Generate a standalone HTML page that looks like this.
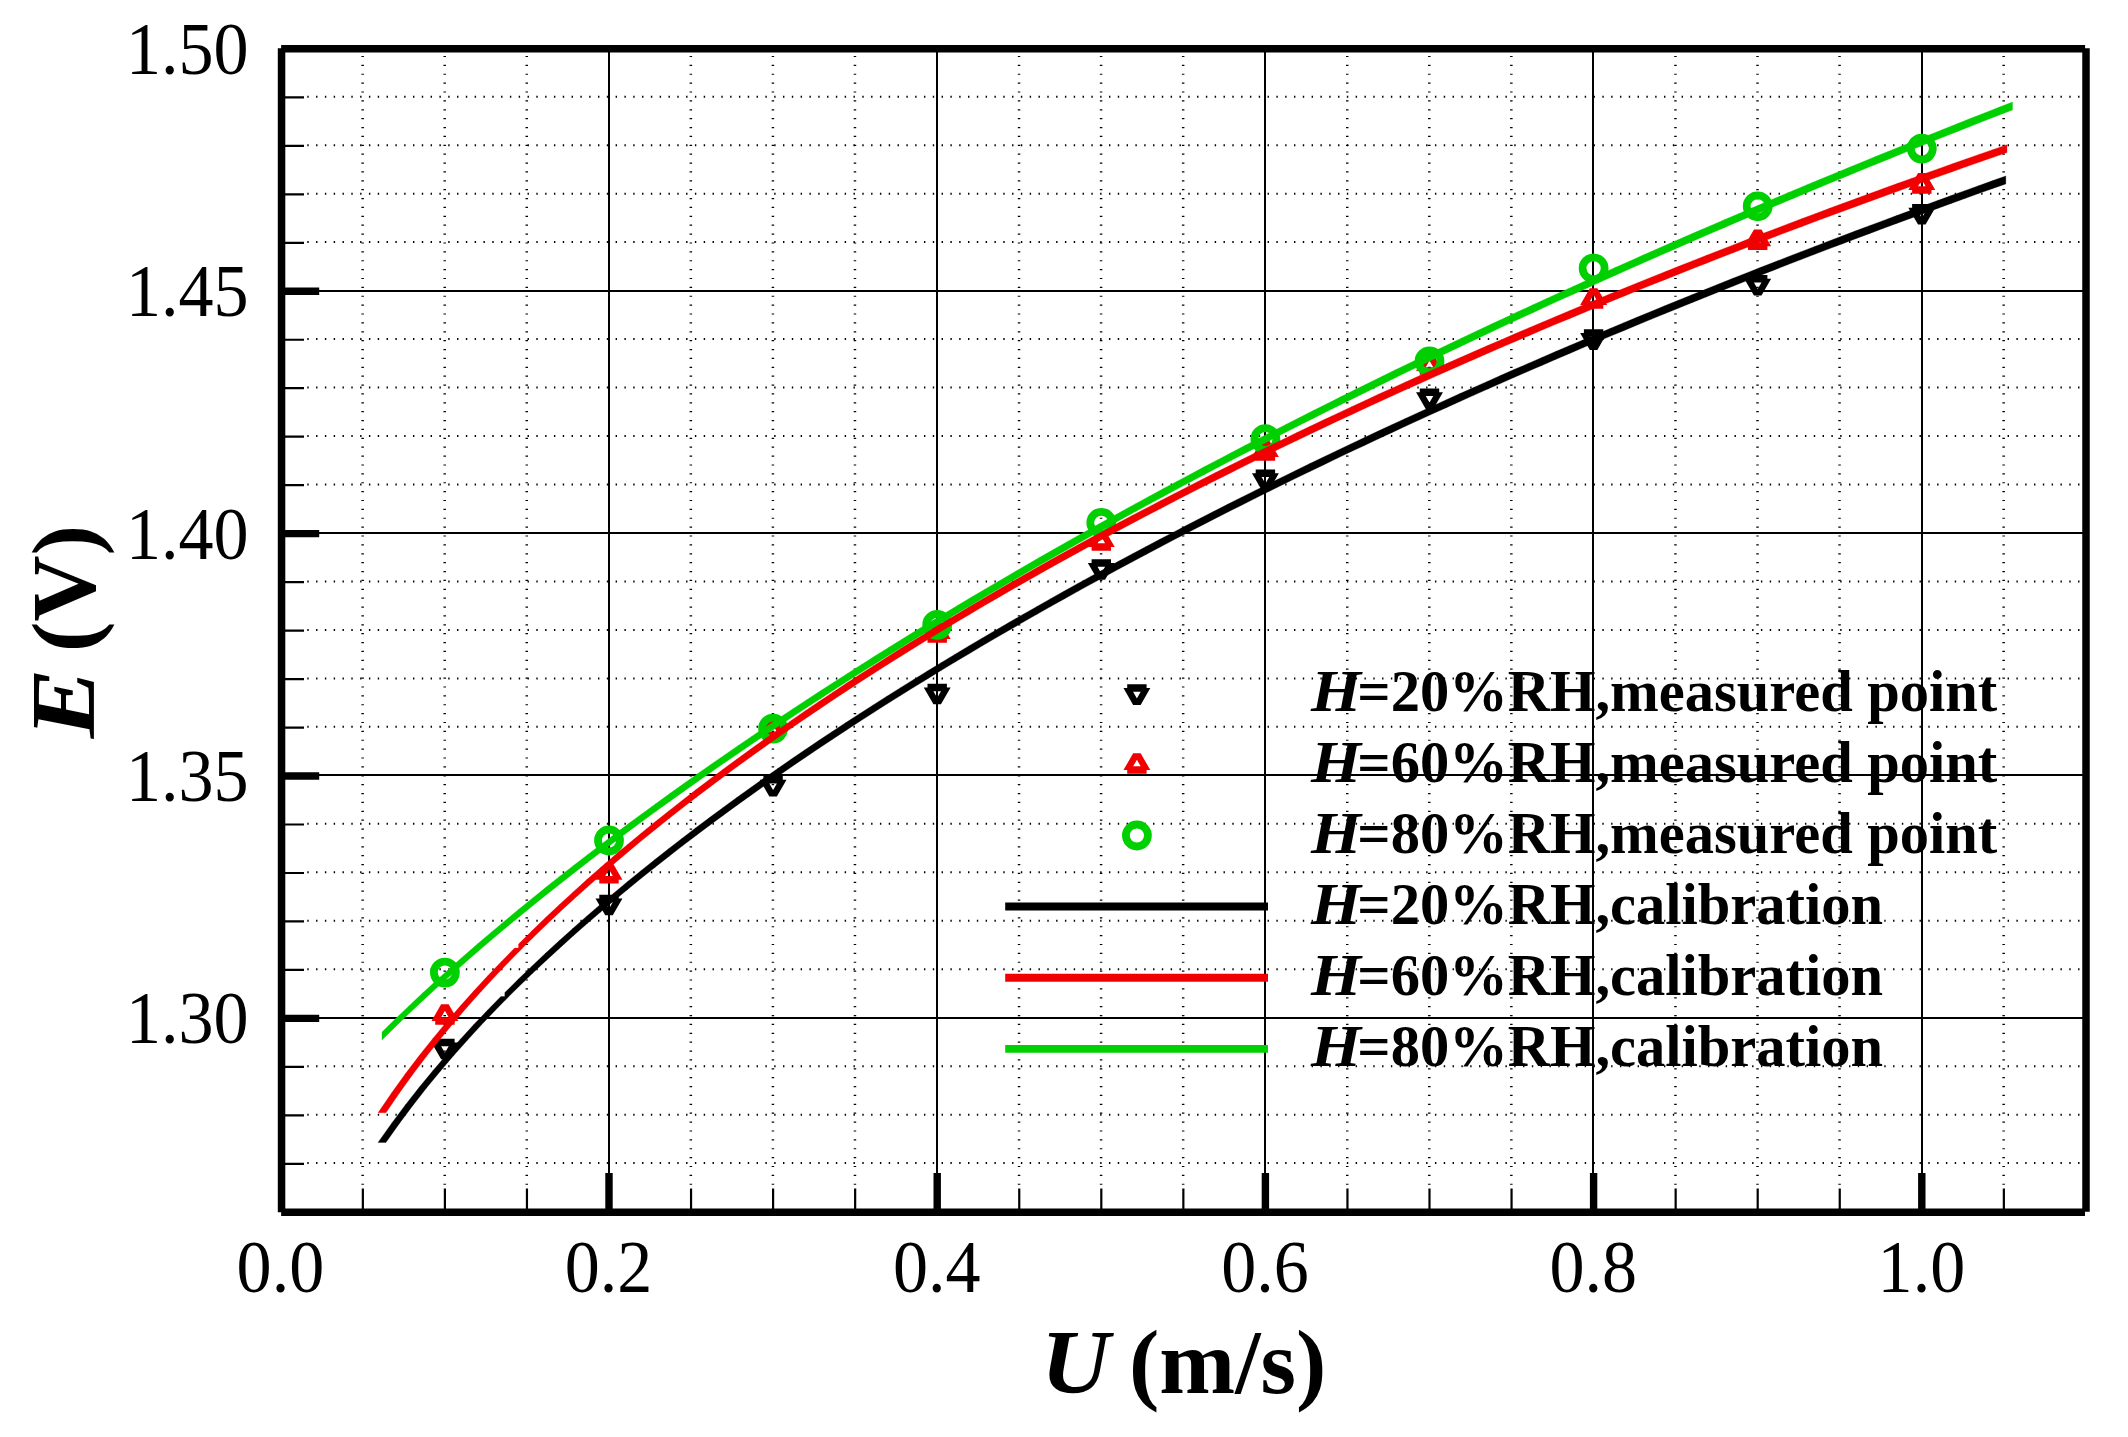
<!DOCTYPE html>
<html><head><meta charset="utf-8"><title>E-U calibration</title>
<style>html,body{margin:0;padding:0;background:#fff}svg{display:block}</style></head>
<body>
<svg width="2128" height="1437" viewBox="0 0 2128 1437">
<rect width="2128" height="1437" fill="#fff"/>
<path d="M307.27 96.67H2081.9M307.27 145.15H2081.9M307.27 193.63H2081.9M307.27 242.1H2081.9M307.27 339.05H2081.9M307.27 387.52H2081.9M307.27 436H2081.9M307.27 484.48H2081.9M307.27 581.42H2081.9M307.27 629.9H2081.9M307.27 678.38H2081.9M307.27 726.85H2081.9M307.27 823.8H2081.9M307.27 872.27H2081.9M307.27 920.75H2081.9M307.27 969.22H2081.9M307.27 1066.17H2081.9M307.27 1114.65H2081.9M307.27 1163.12H2081.9" stroke="#000" stroke-width="2.0" stroke-dasharray="1.4 7.41" fill="none"/>
<path d="M362.65 55.9V1187M444.7 55.9V1187M526.75 55.9V1187M690.85 55.9V1187M772.9 55.9V1187M854.95 55.9V1187M1019.05 55.9V1187M1101.1 55.9V1187M1183.15 55.9V1187M1347.25 55.9V1187M1429.3 55.9V1187M1511.35 55.9V1187M1675.45 55.9V1187M1757.5 55.9V1187M1839.55 55.9V1187M2003.65 55.9V1187" stroke="#000" stroke-width="2.5" stroke-dasharray="1.2 7.68" fill="none"/>
<path d="M281.55 291H2085.9M281.55 533H2085.9M281.55 775H2085.9M281.55 1018H2085.9M609 48.9V1212.3M937 48.9V1212.3M1265 48.9V1212.3M1593 48.9V1212.3M1922 48.9V1212.3" stroke="#000" stroke-width="2" fill="none"/>
<path d="M435.2 1038.75H454.6V1046.25H435.2ZM431.45 1042.5H438.95L448.65 1059.3H441.15ZM450.85 1042.5H458.35L448.65 1059.3H441.15Z" fill="#000"/>
<path d="M599.3 894.65H618.7V902.15H599.3ZM595.55 898.4H603.05L612.75 915.2H605.25ZM614.95 898.4H622.45L612.75 915.2H605.25Z" fill="#000"/>
<path d="M763.4 775.95H782.8V783.45H763.4ZM759.65 779.7H767.15L776.85 796.5H769.35ZM779.05 779.7H786.55L776.85 796.5H769.35Z" fill="#000"/>
<path d="M927.5 683.65H946.9V691.15H927.5ZM923.75 687.4H931.25L940.95 704.2H933.45ZM943.15 687.4H950.65L940.95 704.2H933.45Z" fill="#000"/>
<path d="M1091.6 559.25H1111V566.75H1091.6ZM1087.85 563H1095.35L1105.05 579.8H1097.55ZM1107.25 563H1114.75L1105.05 579.8H1097.55Z" fill="#000"/>
<path d="M1255.7 469.55H1275.1V477.05H1255.7ZM1251.95 473.3H1259.45L1269.15 490.1H1261.65ZM1271.35 473.3H1278.85L1269.15 490.1H1261.65Z" fill="#000"/>
<path d="M1419.8 388.45H1439.2V395.95H1419.8ZM1416.05 392.2H1423.55L1433.25 409H1425.75ZM1435.45 392.2H1442.95L1433.25 409H1425.75Z" fill="#000"/>
<path d="M1583.9 329.35H1603.3V336.85H1583.9ZM1580.15 333.1H1587.65L1597.35 349.9H1589.85ZM1599.55 333.1H1607.05L1597.35 349.9H1589.85Z" fill="#000"/>
<path d="M1748 274.95H1767.4V282.45H1748ZM1744.25 278.7H1751.75L1761.45 295.5H1753.95ZM1763.65 278.7H1771.15L1761.45 295.5H1753.95Z" fill="#000"/>
<path d="M1912.1 204.05H1931.5V211.55H1912.1ZM1908.35 207.8H1915.85L1925.55 224.6H1918.05ZM1927.75 207.8H1935.25L1925.55 224.6H1918.05Z" fill="#000"/>
<path d="M435.2 1024.85H454.6V1017.35H435.2ZM431.45 1021.1H438.95L448.65 1004.3H441.15ZM450.85 1021.1H458.35L448.65 1004.3H441.15Z" fill="#f00000"/>
<path d="M599.3 883.55H618.7V876.05H599.3ZM595.55 879.8H603.05L612.75 863H605.25ZM614.95 879.8H622.45L612.75 863H605.25Z" fill="#f00000"/>
<path d="M763.4 739.35H782.8V731.85H763.4ZM759.65 735.6H767.15L776.85 718.8H769.35ZM779.05 735.6H786.55L776.85 718.8H769.35Z" fill="#f00000"/>
<path d="M927.5 642.65H946.9V635.15H927.5ZM923.75 638.9H931.25L940.95 622.1H933.45ZM943.15 638.9H950.65L940.95 622.1H933.45Z" fill="#f00000"/>
<path d="M1091.6 550.85H1111V543.35H1091.6ZM1087.85 547.1H1095.35L1105.05 530.3H1097.55ZM1107.25 547.1H1114.75L1105.05 530.3H1097.55Z" fill="#f00000"/>
<path d="M1255.7 460.75H1275.1V453.25H1255.7ZM1251.95 457H1259.45L1269.15 440.2H1261.65ZM1271.35 457H1278.85L1269.15 440.2H1261.65Z" fill="#f00000"/>
<path d="M1419.8 374.85H1439.2V367.35H1419.8ZM1416.05 371.1H1423.55L1433.25 354.3H1425.75ZM1435.45 371.1H1442.95L1433.25 354.3H1425.75Z" fill="#f00000"/>
<path d="M1583.9 308.75H1603.3V301.25H1583.9ZM1580.15 305H1587.65L1597.35 288.2H1589.85ZM1599.55 305H1607.05L1597.35 288.2H1589.85Z" fill="#f00000"/>
<path d="M1748 250.05H1767.4V242.55H1748ZM1744.25 246.3H1751.75L1761.45 229.5H1753.95ZM1763.65 246.3H1771.15L1761.45 229.5H1753.95Z" fill="#f00000"/>
<path d="M1912.1 193.65H1931.5V186.15H1912.1ZM1908.35 189.9H1915.85L1925.55 173.1H1918.05ZM1927.75 189.9H1935.25L1925.55 173.1H1918.05Z" fill="#f00000"/>
<circle cx="444.9" cy="972.6" r="11" fill="none" stroke="#00d000" stroke-width="7.8"/>
<circle cx="609" cy="840.5" r="11" fill="none" stroke="#00d000" stroke-width="7.8"/>
<circle cx="773.1" cy="728.6" r="11" fill="none" stroke="#00d000" stroke-width="7.8"/>
<circle cx="937.2" cy="624.9" r="11" fill="none" stroke="#00d000" stroke-width="7.8"/>
<circle cx="1101.3" cy="522.8" r="11" fill="none" stroke="#00d000" stroke-width="7.8"/>
<circle cx="1265.4" cy="439.1" r="11" fill="none" stroke="#00d000" stroke-width="7.8"/>
<circle cx="1429.5" cy="361.4" r="11" fill="none" stroke="#00d000" stroke-width="7.8"/>
<circle cx="1593.6" cy="268.3" r="11" fill="none" stroke="#00d000" stroke-width="7.8"/>
<circle cx="1757.7" cy="206.3" r="11" fill="none" stroke="#00d000" stroke-width="7.8"/>
<circle cx="1921.8" cy="148.6" r="11" fill="none" stroke="#00d000" stroke-width="7.8"/>
<path d="M378.05 1142.46H385.95L399.6 1123.16H391.7ZM391.7 1123.16H399.6L413.24 1104.92H405.34ZM405.34 1104.92H413.24L426.89 1087.55H418.99ZM418.99 1087.55H426.89L440.53 1070.96H432.63ZM432.63 1070.96H440.53L454.18 1055.02H446.28ZM446.28 1055.02H454.18L467.82 1039.68H459.92ZM459.92 1039.68H467.82L481.47 1024.85H473.57ZM473.57 1024.85H481.47L495.11 1010.5H487.21ZM487.21 1010.5H495.11L508.76 996.57H500.86ZM504.81 992.62V1000.52L518.45 986.98V979.08ZM518.45 979.08V986.98L532.1 973.79V965.89ZM532.1 965.89V973.79L545.74 960.93V953.03ZM545.74 953.03V960.93L559.39 948.38V940.48ZM559.39 940.48V948.38L573.04 936.1V928.2ZM573.04 928.2V936.1L586.68 924.09V916.19ZM586.68 916.19V924.09L600.33 912.32V904.42ZM600.33 904.42V912.32L613.97 900.78V892.88ZM613.97 892.88V900.78L627.62 889.46V881.56ZM627.62 881.56V889.46L641.26 878.35V870.45ZM641.26 870.45V878.35L654.91 867.42V859.52ZM654.91 859.52V867.42L668.55 856.69V848.79ZM668.55 848.79V856.69L682.2 846.12V838.22ZM682.2 838.22V846.12L695.84 835.72V827.82ZM695.84 827.82V835.72L709.49 825.48V817.58ZM709.49 817.58V825.48L723.13 815.39V807.49ZM723.13 807.49V815.39L736.78 805.45V797.55ZM736.78 797.55V805.45L750.43 795.64V787.74ZM750.43 787.74V795.64L764.07 785.97V778.07ZM764.07 778.07V785.97L777.72 776.42V768.52ZM777.72 768.52V776.42L791.36 767V759.1ZM791.36 759.1V767L805.01 757.69V749.79ZM805.01 749.79V757.69L818.65 748.5V740.6ZM818.65 740.6V748.5L832.3 739.42V731.52ZM832.3 731.52V739.42L845.94 730.45V722.55ZM845.94 722.55V730.45L859.59 721.57V713.67ZM859.59 713.67V721.57L873.23 712.8V704.9ZM873.23 704.9V712.8L886.88 704.12V696.22ZM886.88 696.22V704.12L900.52 695.54V687.64ZM900.52 687.64V695.54L914.17 687.05V679.15ZM914.17 679.15V687.05L927.82 678.64V670.74ZM927.82 670.74V678.64L941.46 670.32V662.42ZM941.46 662.42V670.32L955.11 662.09V654.19ZM955.11 654.19V662.09L968.75 653.93V646.03ZM968.75 646.03V653.93L982.4 645.86V637.96ZM982.4 637.96V645.86L996.04 637.86V629.96ZM996.04 629.96V637.86L1009.69 629.93V622.03ZM1009.69 622.03V629.93L1023.33 622.08V614.18ZM1023.33 614.18V622.08L1036.98 614.3V606.4ZM1036.98 606.4V614.3L1050.62 606.58V598.68ZM1050.62 598.68V606.58L1064.27 598.94V591.04ZM1064.27 591.04V598.94L1077.91 591.36V583.46ZM1077.91 583.46V591.36L1091.56 583.85V575.95ZM1091.56 575.95V583.85L1105.21 576.4V568.5ZM1105.21 568.5V576.4L1118.85 569.01V561.11ZM1118.85 561.11V569.01L1132.5 561.69V553.79ZM1132.5 553.79V561.69L1146.14 554.42V546.52ZM1146.14 546.52V554.42L1159.79 547.21V539.31ZM1159.79 539.31V547.21L1173.43 540.06V532.16ZM1173.43 532.16V540.06L1187.08 532.97V525.07ZM1187.08 525.07V532.97L1200.72 525.93V518.03ZM1200.72 518.03V525.93L1214.37 518.94V511.04ZM1214.37 511.04V518.94L1228.01 512.01V504.11ZM1228.01 504.11V512.01L1241.66 505.13V497.23ZM1241.66 497.23V505.13L1255.3 498.3V490.4ZM1255.3 490.4V498.3L1268.95 491.52V483.62ZM1268.95 483.62V491.52L1282.59 484.79V476.89ZM1282.59 476.89V484.79L1296.24 478.11V470.21ZM1296.24 470.21V478.11L1309.89 471.48V463.58ZM1309.89 463.58V471.48L1323.53 464.89V456.99ZM1323.53 456.99V464.89L1337.18 458.35V450.45ZM1337.18 450.45V458.35L1350.82 451.86V443.96ZM1350.82 443.96V451.86L1364.47 445.41V437.51ZM1364.47 437.51V445.41L1378.11 439.01V431.11ZM1378.11 431.11V439.01L1391.76 432.65V424.75ZM1391.76 424.75V432.65L1405.4 426.33V418.43ZM1405.4 418.43V426.33L1419.05 420.05V412.15ZM1419.05 412.15V420.05L1432.69 413.82V405.92ZM1432.69 405.92V413.82L1446.34 407.63V399.73ZM1446.34 399.73V407.63L1459.98 401.48V393.58ZM1459.98 393.58V401.48L1473.63 395.37V387.47ZM1473.63 387.47V395.37L1487.28 389.3V381.4ZM1487.28 381.4V389.3L1500.92 383.26V375.36ZM1500.92 375.36V383.26L1514.57 377.27V369.37ZM1514.57 369.37V377.27L1528.21 371.31V363.41ZM1528.21 363.41V371.31L1541.86 365.4V357.5ZM1541.86 357.5V365.4L1555.5 359.51V351.61ZM1555.5 351.61V359.51L1569.15 353.67V345.77ZM1569.15 345.77V353.67L1582.79 347.86V339.96ZM1582.79 339.96V347.86L1596.44 342.09V334.19ZM1596.44 334.19V342.09L1610.08 336.35V328.45ZM1610.08 328.45V336.35L1623.73 330.65V322.75ZM1623.73 322.75V330.65L1637.37 324.99V317.09ZM1637.37 317.09V324.99L1651.02 319.35V311.45ZM1651.02 311.45V319.35L1664.67 313.76V305.86ZM1664.67 305.86V313.76L1678.31 308.19V300.29ZM1678.31 300.29V308.19L1691.96 302.66V294.76ZM1691.96 294.76V302.66L1705.6 297.16V289.26ZM1705.6 289.26V297.16L1719.25 291.69V283.79ZM1719.25 283.79V291.69L1732.89 286.26V278.36ZM1732.89 278.36V286.26L1746.54 280.86V272.96ZM1746.54 272.96V280.86L1760.18 275.49V267.59ZM1760.18 267.59V275.49L1773.83 270.15V262.25ZM1773.83 262.25V270.15L1787.47 264.84V256.94ZM1787.47 256.94V264.84L1801.12 259.56V251.66ZM1801.12 251.66V259.56L1814.76 254.32V246.42ZM1814.76 246.42V254.32L1828.41 249.1V241.2ZM1828.41 241.2V249.1L1842.06 243.91V236.01ZM1842.06 236.01V243.91L1855.7 238.75V230.85ZM1855.7 230.85V238.75L1869.35 233.63V225.73ZM1869.35 225.73V233.63L1882.99 228.53V220.63ZM1882.99 220.63V228.53L1896.64 223.46V215.56ZM1896.64 215.56V223.46L1910.28 218.41V210.51ZM1910.28 210.51V218.41L1923.93 213.4V205.5ZM1923.93 205.5V213.4L1937.57 208.41V200.51ZM1937.57 200.51V208.41L1951.22 203.46V195.56ZM1951.22 195.56V203.46L1964.86 198.53V190.63ZM1964.86 190.63V198.53L1978.51 193.62V185.72ZM1978.51 185.72V193.62L1992.15 188.75V180.85ZM1992.15 180.85V188.75L2005.8 183.9V176Z" fill="#000" stroke="#000" stroke-width="0.3"/>
<path d="M378.05 1112.78H385.95L399.61 1092.75H391.71ZM391.71 1092.75H399.61L413.26 1073.83H405.36ZM405.36 1073.83H413.26L426.92 1055.84H419.02ZM419.02 1055.84H426.92L440.57 1038.67H432.67ZM432.67 1038.67H440.57L454.23 1022.2H446.33ZM446.33 1022.2H454.23L467.88 1006.35H459.98ZM459.98 1006.35H467.88L481.54 991.06H473.64ZM473.64 991.06H481.54L495.19 976.27H487.29ZM487.29 976.27H495.19L508.85 961.93H500.95ZM500.95 961.93H508.85L522.5 948.01H514.6ZM518.55 944.06V951.96L532.21 938.42V930.52ZM532.21 930.52V938.42L545.87 925.22V917.32ZM545.87 917.32V925.22L559.52 912.35V904.45ZM559.52 904.45V912.35L573.18 899.79V891.89ZM573.18 891.89V899.79L586.83 887.5V879.6ZM586.83 879.6V887.5L600.49 875.48V867.58ZM600.49 867.58V875.48L614.14 863.7V855.8ZM614.14 855.8V863.7L627.8 852.16V844.26ZM627.8 844.26V852.16L641.45 840.83V832.93ZM641.45 832.93V840.83L655.11 829.72V821.82ZM655.11 821.82V829.72L668.76 818.8V810.9ZM668.76 810.9V818.8L682.42 808.07V800.17ZM682.42 800.17V808.07L696.08 797.52V789.62ZM696.08 789.62V797.52L709.73 787.14V779.24ZM709.73 779.24V787.14L723.39 776.92V769.02ZM723.39 769.02V776.92L737.04 766.86V758.96ZM737.04 758.96V766.86L750.7 756.94V749.04ZM750.7 749.04V756.94L764.35 747.17V739.27ZM764.35 739.27V747.17L778.01 737.54V729.64ZM778.01 729.64V737.54L791.66 728.04V720.14ZM791.66 720.14V728.04L805.32 718.66V710.76ZM805.32 710.76V718.66L818.97 709.41V701.51ZM818.97 701.51V709.41L832.63 700.28V692.38ZM832.63 692.38V700.28L846.29 691.26V683.36ZM846.29 683.36V691.26L859.94 682.35V674.45ZM859.94 674.45V682.35L873.6 673.55V665.65ZM873.6 665.65V673.55L887.25 664.85V656.95ZM887.25 656.95V664.85L900.91 656.25V648.35ZM900.91 648.35V656.25L914.56 647.75V639.85ZM914.56 639.85V647.75L928.22 639.34V631.44ZM928.22 631.44V639.34L941.87 631.02V623.12ZM941.87 623.12V631.02L955.53 622.8V614.9ZM955.53 614.9V622.8L969.18 614.66V606.76ZM969.18 606.76V614.66L982.84 606.6V598.7ZM982.84 598.7V606.6L996.5 598.63V590.73ZM996.5 590.73V598.63L1010.15 590.73V582.83ZM1010.15 582.83V590.73L1023.81 582.92V575.02ZM1023.81 575.02V582.92L1037.46 575.18V567.28ZM1037.46 567.28V575.18L1051.12 567.51V559.61ZM1051.12 559.61V567.51L1064.77 559.92V552.02ZM1064.77 552.02V559.92L1078.43 552.4V544.5ZM1078.43 544.5V552.4L1092.08 544.94V537.04ZM1092.08 537.04V544.94L1105.74 537.55V529.65ZM1105.74 529.65V537.55L1119.39 530.23V522.33ZM1119.39 522.33V530.23L1133.05 522.98V515.08ZM1133.05 515.08V522.98L1146.71 515.78V507.88ZM1146.71 507.88V515.78L1160.36 508.65V500.75ZM1160.36 500.75V508.65L1174.02 501.58V493.68ZM1174.02 493.68V501.58L1187.67 494.57V486.67ZM1187.67 486.67V494.57L1201.33 487.61V479.71ZM1201.33 479.71V487.61L1214.98 480.72V472.82ZM1214.98 472.82V480.72L1228.64 473.88V465.98ZM1228.64 465.98V473.88L1242.29 467.09V459.19ZM1242.29 459.19V467.09L1255.95 460.36V452.46ZM1255.95 452.46V460.36L1269.61 453.68V445.78ZM1269.61 445.78V453.68L1283.26 447.05V439.15ZM1283.26 439.15V447.05L1296.92 440.47V432.57ZM1296.92 432.57V440.47L1310.57 433.94V426.04ZM1310.57 426.04V433.94L1324.23 427.46V419.56ZM1324.23 419.56V427.46L1337.88 421.03V413.13ZM1337.88 413.13V421.03L1351.54 414.65V406.75ZM1351.54 406.75V414.65L1365.19 408.31V400.41ZM1365.19 400.41V408.31L1378.85 402.02V394.12ZM1378.85 394.12V402.02L1392.5 395.78V387.88ZM1392.5 387.88V395.78L1406.16 389.58V381.68ZM1406.16 381.68V389.58L1419.82 383.42V375.52ZM1419.82 375.52V383.42L1433.47 377.31V369.41ZM1433.47 369.41V377.31L1447.13 371.24V363.34ZM1447.13 363.34V371.24L1460.78 365.21V357.31ZM1460.78 357.31V365.21L1474.44 359.22V351.32ZM1474.44 351.32V359.22L1488.09 353.27V345.37ZM1488.09 345.37V353.27L1501.75 347.36V339.46ZM1501.75 339.46V347.36L1515.4 341.49V333.59ZM1515.4 333.59V341.49L1529.06 335.66V327.76ZM1529.06 327.76V335.66L1542.71 329.87V321.97ZM1542.71 321.97V329.87L1556.37 324.12V316.22ZM1556.37 316.22V324.12L1570.03 318.4V310.5ZM1570.03 310.5V318.4L1583.68 312.72V304.82ZM1583.68 304.82V312.72L1597.34 307.07V299.17ZM1597.34 299.17V307.07L1610.99 301.47V293.57ZM1610.99 293.57V301.47L1624.65 295.89V287.99ZM1624.65 287.99V295.89L1638.3 290.36V282.46ZM1638.3 282.46V290.36L1651.96 284.85V276.95ZM1651.96 276.95V284.85L1665.61 279.38V271.48ZM1665.61 271.48V279.38L1679.27 273.94V266.04ZM1679.27 266.04V273.94L1692.92 268.54V260.64ZM1692.92 260.64V268.54L1706.58 263.17V255.27ZM1706.58 255.27V263.17L1720.24 257.83V249.93ZM1720.24 249.93V257.83L1733.89 252.53V244.63ZM1733.89 244.63V252.53L1747.55 247.25V239.35ZM1747.55 239.35V247.25L1761.2 242.01V234.11ZM1761.2 234.11V242.01L1774.86 236.8V228.9ZM1774.86 228.9V236.8L1788.51 231.61V223.71ZM1788.51 223.71V231.61L1802.17 226.46V218.56ZM1802.17 218.56V226.46L1815.82 221.34V213.44ZM1815.82 213.44V221.34L1829.48 216.25V208.35ZM1829.48 208.35V216.25L1843.13 211.18V203.28ZM1843.13 203.28V211.18L1856.79 206.15V198.25ZM1856.79 198.25V206.15L1870.45 201.14V193.24ZM1870.45 193.24V201.14L1884.1 196.16V188.26ZM1884.1 188.26V196.16L1897.76 191.21V183.31ZM1897.76 183.31V191.21L1911.41 186.29V178.39ZM1911.41 178.39V186.29L1925.07 181.39V173.49ZM1925.07 173.49V181.39L1938.72 176.53V168.63ZM1938.72 168.63V176.53L1952.38 171.69V163.79ZM1952.38 163.79V171.69L1966.03 166.87V158.97ZM1966.03 158.97V166.87L1979.69 162.08V154.18ZM1979.69 154.18V162.08L1993.34 157.32V149.42ZM1993.34 149.42V157.32L2007 152.58V144.68Z" fill="#f00000" stroke="#f00000" stroke-width="0.3"/>
<path d="M382 1032.04V1039.94L395.7 1026.44V1018.54ZM395.7 1018.54V1026.44L409.4 1013.28V1005.38ZM409.4 1005.38V1013.28L423.11 1000.43V992.53ZM423.11 992.53V1000.43L436.81 987.85V979.95ZM436.81 979.95V987.85L450.51 975.52V967.62ZM450.51 967.62V975.52L464.21 963.41V955.51ZM464.21 955.51V963.41L477.91 951.52V943.62ZM477.91 943.62V951.52L491.61 939.82V931.92ZM491.61 931.92V939.82L505.32 928.31V920.41ZM505.32 920.41V928.31L519.02 916.97V909.07ZM519.02 909.07V916.97L532.72 905.79V897.89ZM532.72 897.89V905.79L546.42 894.76V886.86ZM546.42 886.86V894.76L560.12 883.88V875.98ZM560.12 875.98V883.88L573.82 873.15V865.25ZM573.82 865.25V873.15L587.53 862.54V854.64ZM587.53 854.64V862.54L601.23 852.07V844.17ZM601.23 844.17V852.07L614.93 841.71V833.81ZM614.93 833.81V841.71L628.63 831.48V823.58ZM628.63 823.58V831.48L642.33 821.36V813.46ZM642.33 813.46V821.36L656.03 811.35V803.45ZM656.03 803.45V811.35L669.74 801.45V793.55ZM669.74 793.55V801.45L683.44 791.64V783.74ZM683.44 783.74V791.64L697.14 781.94V774.04ZM697.14 774.04V781.94L710.84 772.34V764.44ZM710.84 764.44V772.34L724.54 762.83V754.93ZM724.54 754.93V762.83L738.24 753.41V745.51ZM738.24 745.51V753.41L751.95 744.07V736.17ZM751.95 736.17V744.07L765.65 734.83V726.93ZM765.65 726.93V734.83L779.35 725.67V717.77ZM779.35 717.77V725.67L793.05 716.59V708.69ZM793.05 708.69V716.59L806.75 707.59V699.69ZM806.75 699.69V707.59L820.45 698.66V690.76ZM820.45 690.76V698.66L834.16 689.82V681.92ZM834.16 681.92V689.82L847.86 681.05V673.15ZM847.86 673.15V681.05L861.56 672.35V664.45ZM861.56 664.45V672.35L875.26 663.72V655.82ZM875.26 655.82V663.72L888.96 655.16V647.26ZM888.96 647.26V655.16L902.66 646.67V638.77ZM902.66 638.77V646.67L916.37 638.25V630.35ZM916.37 630.35V638.25L930.07 629.89V621.99ZM930.07 621.99V629.89L943.77 621.59V613.69ZM943.77 613.69V621.59L957.47 613.36V605.46ZM957.47 605.46V613.36L971.17 605.19V597.29ZM971.17 597.29V605.19L984.87 597.08V589.18ZM984.87 589.18V597.08L998.58 589.03V581.13ZM998.58 581.13V589.03L1012.28 581.04V573.14ZM1012.28 573.14V581.04L1025.98 573.11V565.21ZM1025.98 565.21V573.11L1039.68 565.23V557.33ZM1039.68 557.33V565.23L1053.38 557.41V549.51ZM1053.38 549.51V557.41L1067.08 549.64V541.74ZM1067.08 541.74V549.64L1080.79 541.92V534.02ZM1080.79 534.02V541.92L1094.49 534.26V526.36ZM1094.49 526.36V534.26L1108.19 526.65V518.75ZM1108.19 518.75V526.65L1121.89 519.09V511.19ZM1121.89 511.19V519.09L1135.59 511.58V503.68ZM1135.59 503.68V511.58L1149.29 504.12V496.22ZM1149.29 496.22V504.12L1163 496.71V488.81ZM1163 488.81V496.71L1176.7 489.35V481.45ZM1176.7 481.45V489.35L1190.4 482.03V474.13ZM1190.4 474.13V482.03L1204.1 474.76V466.86ZM1204.1 466.86V474.76L1217.8 467.53V459.63ZM1217.8 459.63V467.53L1231.5 460.36V452.46ZM1231.5 452.46V460.36L1245.21 453.22V445.32ZM1245.21 445.32V453.22L1258.91 446.13V438.23ZM1258.91 438.23V446.13L1272.61 439.08V431.18ZM1272.61 431.18V439.08L1286.31 432.08V424.18ZM1286.31 424.18V432.08L1300.01 425.11V417.21ZM1300.01 417.21V425.11L1313.71 418.19V410.29ZM1313.71 410.29V418.19L1327.42 411.31V403.41ZM1327.42 403.41V411.31L1341.12 404.47V396.57ZM1341.12 396.57V404.47L1354.82 397.67V389.77ZM1354.82 389.77V397.67L1368.52 390.91V383.01ZM1368.52 383.01V390.91L1382.22 384.19V376.29ZM1382.22 376.29V384.19L1395.92 377.5V369.6ZM1395.92 369.6V377.5L1409.63 370.86V362.96ZM1409.63 362.96V370.86L1423.33 364.25V356.35ZM1423.33 356.35V364.25L1437.03 357.68V349.78ZM1437.03 349.78V357.68L1450.73 351.14V343.24ZM1450.73 343.24V351.14L1464.43 344.64V336.74ZM1464.43 336.74V344.64L1478.13 338.18V330.28ZM1478.13 330.28V338.18L1491.84 331.75V323.85ZM1491.84 323.85V331.75L1505.54 325.35V317.45ZM1505.54 317.45V325.35L1519.24 318.99V311.09ZM1519.24 311.09V318.99L1532.94 312.67V304.77ZM1532.94 304.77V312.67L1546.64 306.37V298.47ZM1546.64 298.47V306.37L1560.34 300.11V292.21ZM1560.34 292.21V300.11L1574.05 293.89V285.99ZM1574.05 285.99V293.89L1587.75 287.69V279.79ZM1587.75 279.79V287.69L1601.45 281.53V273.63ZM1601.45 273.63V281.53L1615.15 275.4V267.5ZM1615.15 267.5V275.4L1628.85 269.3V261.4ZM1628.85 261.4V269.3L1642.55 263.23V255.33ZM1642.55 255.33V263.23L1656.26 257.19V249.29ZM1656.26 249.29V257.19L1669.96 251.18V243.28ZM1669.96 243.28V251.18L1683.66 245.2V237.3ZM1683.66 237.3V245.2L1697.36 239.25V231.35ZM1697.36 231.35V239.25L1711.06 233.33V225.43ZM1711.06 225.43V233.33L1724.76 227.44V219.54ZM1724.76 219.54V227.44L1738.47 221.58V213.68ZM1738.47 213.68V221.58L1752.17 215.74V207.84ZM1752.17 207.84V215.74L1765.87 209.94V202.04ZM1765.87 202.04V209.94L1779.57 204.16V196.26ZM1779.57 196.26V204.16L1793.27 198.41V190.51ZM1793.27 190.51V198.41L1806.97 192.68V184.78ZM1806.97 184.78V192.68L1820.68 186.99V179.09ZM1820.68 179.09V186.99L1834.38 181.32V173.42ZM1834.38 173.42V181.32L1848.08 175.67V167.77ZM1848.08 167.77V175.67L1861.78 170.05V162.15ZM1861.78 162.15V170.05L1875.48 164.46V156.56ZM1875.48 156.56V164.46L1889.18 158.89V150.99ZM1889.18 150.99V158.89L1902.89 153.35V145.45ZM1902.89 145.45V153.35L1916.59 147.83V139.93ZM1916.59 139.93V147.83L1930.29 142.34V134.44ZM1930.29 134.44V142.34L1943.99 136.87V128.97ZM1943.99 128.97V136.87L1957.69 131.42V123.52ZM1957.69 123.52V131.42L1971.39 126V118.1ZM1971.39 118.1V126L1985.1 120.61V112.71ZM1985.1 112.71V120.61L1998.8 115.23V107.33ZM1998.8 107.33V115.23L2012.5 109.88V101.98Z" fill="#00d000" stroke="#00d000" stroke-width="0.3"/>
<path d="M281.55 97.38H304M281.55 145.85H304M281.55 194.33H304M281.55 242.8H304M281.55 339.75H304M281.55 388.22H304M281.55 436.7H304M281.55 485.18H304M281.55 582.12H304M281.55 630.6H304M281.55 679.08H304M281.55 727.55H304M281.55 824.5H304M281.55 872.98H304M281.55 921.45H304M281.55 969.92H304M281.55 1066.88H304M281.55 1115.35H304M281.55 1163.83H304M362.85 1212.3V1188.4M444.9 1212.3V1188.4M526.95 1212.3V1188.4M691.05 1212.3V1188.4M773.1 1212.3V1188.4M855.15 1212.3V1188.4M1019.25 1212.3V1188.4M1101.3 1212.3V1188.4M1183.35 1212.3V1188.4M1347.45 1212.3V1188.4M1429.5 1212.3V1188.4M1511.55 1212.3V1188.4M1675.65 1212.3V1188.4M1757.7 1212.3V1188.4M1839.75 1212.3V1188.4M2003.85 1212.3V1188.4" stroke="#000" stroke-width="2.2" fill="none"/>
<path d="M281.55 291.27H319.2M281.55 533.65H319.2M281.55 776.02H319.2M281.55 1018.4H319.2M609 1212.3V1173M937.2 1212.3V1173M1265.4 1212.3V1173M1593.6 1212.3V1173M1921.8 1212.3V1173" stroke="#000" stroke-width="7.4" fill="none"/>
<path d="M281.55 48.3V1212.3 M281.15 48.8H2085.1 M2086 48.2V1211.7 M281.15 1212.3H2085" stroke="#000" stroke-width="7.5" fill="none"/>
<g font-family="'Liberation Serif','Times New Roman',serif" font-size="74" fill="#000">
<text transform="translate(248.5 73.9) scale(0.947 1)" text-anchor="end">1.50</text>
<text transform="translate(248.5 316.27) scale(0.947 1)" text-anchor="end">1.45</text>
<text transform="translate(248.5 558.65) scale(0.947 1)" text-anchor="end">1.40</text>
<text transform="translate(248.5 801.02) scale(0.947 1)" text-anchor="end">1.35</text>
<text transform="translate(248.5 1043.4) scale(0.947 1)" text-anchor="end">1.30</text>
<text transform="translate(280.4 1292) scale(0.947 1)" text-anchor="middle">0.0</text>
<text transform="translate(608.6 1292) scale(0.947 1)" text-anchor="middle">0.2</text>
<text transform="translate(936.8 1292) scale(0.947 1)" text-anchor="middle">0.4</text>
<text transform="translate(1265 1292) scale(0.947 1)" text-anchor="middle">0.6</text>
<text transform="translate(1593.2 1292) scale(0.947 1)" text-anchor="middle">0.8</text>
<text transform="translate(1921.4 1292) scale(0.947 1)" text-anchor="middle">1.0</text>
</g>
<g font-family="'Liberation Serif','Times New Roman',serif" font-weight="bold" font-size="90" fill="#000">
<g><text transform="translate(1041 1393) scale(1.06 1)" font-style="italic">U</text> <text transform="translate(1129 1393) scale(1.012 1)">(m/s)</text></g>
<g><text transform="translate(93.5 738.2) rotate(-90) scale(1.16 1)" font-style="italic">E</text> <text transform="translate(94.5 652) rotate(-90) scale(1.016 1)">(V)</text></g>
</g>
<path d="M1127.2 684.35H1146.6V691.85H1127.2ZM1123.45 688.1H1130.95L1140.65 704.9H1133.15ZM1142.85 688.1H1150.35L1140.65 704.9H1133.15Z" fill="#000"/>
<path d="M1127.2 773.85H1146.6V766.35H1127.2ZM1123.45 770.1H1130.95L1140.65 753.3H1133.15ZM1142.85 770.1H1150.35L1140.65 753.3H1133.15Z" fill="#f00000"/>
<circle cx="1136.9" cy="835.5" r="11" fill="none" stroke="#00d000" stroke-width="7.8"/>
<path d="M1005.2 906.55H1268" stroke="#000" stroke-width="7.9" fill="none"/>
<path d="M1005.2 977.8H1268" stroke="#f00000" stroke-width="7.9" fill="none"/>
<path d="M1005.2 1048.9H1268" stroke="#00d000" stroke-width="7.9" fill="none"/>
<g font-family="'Liberation Serif','Times New Roman',serif" font-weight="bold" font-size="58.5" fill="#000">
<g><text transform="translate(1311 711.2) scale(1.1 1)" font-style="italic">H</text><text x="1357.3" y="711.2">=20%RH,measured point</text></g>
<g><text transform="translate(1311 782.1) scale(1.1 1)" font-style="italic">H</text><text x="1357.3" y="782.1">=60%RH,measured point</text></g>
<g><text transform="translate(1311 853) scale(1.1 1)" font-style="italic">H</text><text x="1357.3" y="853">=80%RH,measured point</text></g>
<g><text transform="translate(1311 923.9) scale(1.1 1)" font-style="italic">H</text><text x="1357.3" y="923.9">=20%RH,calibration</text></g>
<g><text transform="translate(1311 994.8) scale(1.1 1)" font-style="italic">H</text><text x="1357.3" y="994.8">=60%RH,calibration</text></g>
<g><text transform="translate(1311 1065.7) scale(1.1 1)" font-style="italic">H</text><text x="1357.3" y="1065.7">=80%RH,calibration</text></g>
</g>
</svg>
</body></html>
